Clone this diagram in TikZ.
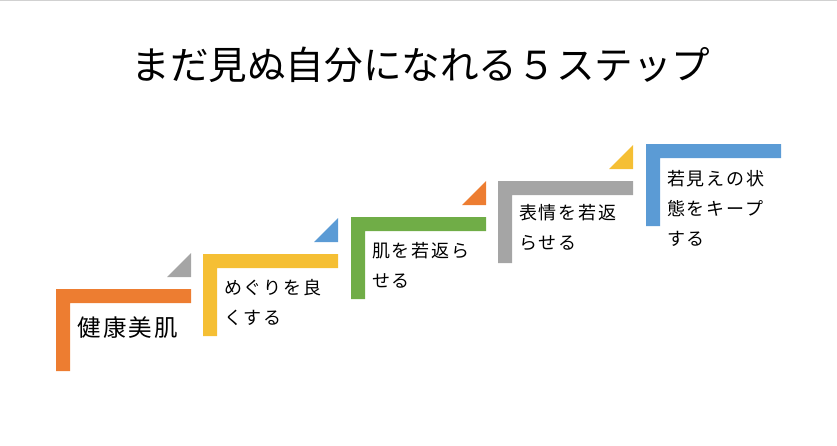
\documentclass[tikz,border=0pt]{standalone}
\usepackage{fontspec}
\setmainfont{Noto Sans CJK JP}
\newfontfamily\jpstep[LetterSpace=10]{Noto Sans CJK JP}
\definecolor{stepOrange}{HTML}{ED7D31}
\definecolor{stepYellow}{HTML}{F5BF34}
\definecolor{stepGreen}{HTML}{70AD47}
\definecolor{stepGray}{HTML}{A5A5A5}
\definecolor{stepBlue}{HTML}{5B9BD5}

\begin{document}
\begin{tikzpicture}[x=1pt,y=-1pt,
	stepbar/.style={ draw=none, fill },
	steptext/.style={ anchor=base west, inner sep=0pt, align=left, font=\jpstep\fontsize{18}{30}\selectfont },
	titletext/.style={ anchor=base, inner sep=0pt, font=\fontsize{38.6}{44}\selectfont }
]
\useasboundingbox (0,0) rectangle (837,445);
\draw[black!18, line width=1.2pt] (0,0.6) -- (837,0.6);

\node at (421,79) (title) [titletext] {まだ見ぬ自分になれる５ステップ};

\coordinate (one) at (56,289);
\coordinate (two) at (203,254);
\coordinate (three) at (351,217);
\coordinate (four) at (498,181);
\coordinate (five) at (646,144);

\foreach \p/\c in {one/stepOrange,two/stepYellow,three/stepGreen,four/stepGray,five/stepBlue}
	\fill[stepbar,\c] (\p) -- ++(135,0) -- ++(0,14) -- ++(-121,0) -- ++(0,68) -- ++(-14,0) -- cycle;
\foreach \p/\c in {one/stepGray,two/stepBlue,three/stepOrange,four/stepYellow}
	\fill[stepbar,\c] (\p) ++(111,-12) -- ++(24,0) -- ++(0,-24) -- cycle;

% base anchor sits on the last line
\node at ([shift={(21,47)}]one) (health) [steptext,font=\jpstep\fontsize{23.5}{30}\selectfont] {健康美肌};
\node at ([shift={(21,70)}]two) (flow) [steptext] {めぐりを良\\くする};
\node at ([shift={(21,70)}]three) (skin) [steptext] {肌を若返ら\\せる};
\node at ([shift={(21,68)}]four) (face) [steptext] {表情を若返\\らせる};
\node at ([shift={(21,101)}]five) (keep) [steptext] {若見えの状\\態をキープ\\する};

\end{tikzpicture}
\end{document}
